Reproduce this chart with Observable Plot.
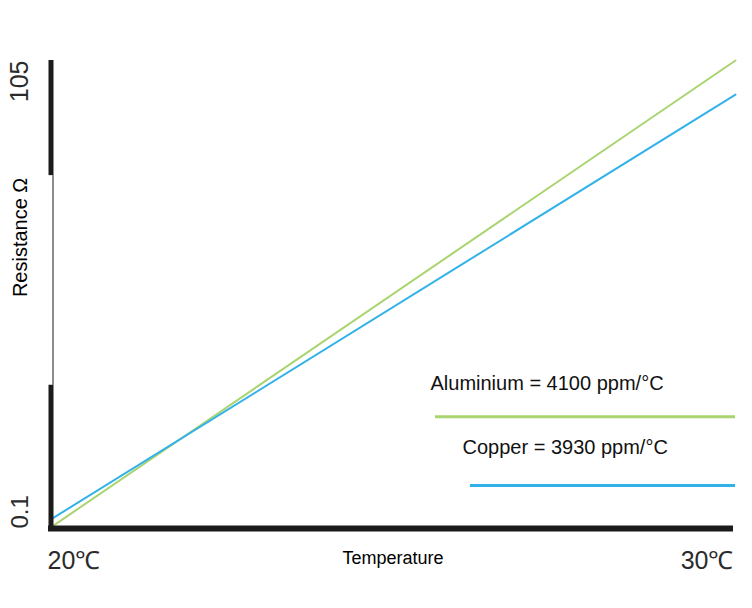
<!DOCTYPE html>
<html>
<head>
<meta charset="utf-8">
<script src="https://cdn.jsdelivr.net/npm/d3@7"></script>
<script src="https://cdn.jsdelivr.net/npm/@observablehq/plot@0.6"></script>
<style>
  html, body { margin: 0; padding: 0; background: #fff; overflow: hidden; }
  #chart svg { display: block; }
</style>
</head>
<body>
<div id="chart"></div>
<script>
// ---- data ----
const temps = [20, 30];                 // °C
const aluminium = [0.2, 100];           // relative resistance (schematic)
const copper = [1.9, 92.7];
const seriesNames = ["Aluminium", "Copper"];
const seriesLabels = ["Aluminium = 4100 ppm/°C", "Copper = 3930 ppm/°C"];
const xTickValues = [20, 30];
const xTickLabels = ["20℃", "30℃"];
const yTickValues = [0, 100];
const yTickLabels = ["0.1", "105"];
const xLabel = "Temperature";
const yLabel = "Resistance Ω";

const colors = {Aluminium: "#a9d46f", Copper: "#33b2ea"};
const axisColor = "#1b1b1b";
const font = "'Liberation Sans', Arial, Helvetica, sans-serif";

const rows = [];
temps.forEach((t, i) => {
  rows.push({series: "Aluminium", t, r: aluminium[i]});
  rows.push({series: "Copper", t, r: copper[i]});
});

const chart = Plot.plot({
  width: 752,
  height: 608,
  marginLeft: 50,
  marginRight: 17,
  marginTop: 60,
  marginBottom: 80,
  x: {domain: [20, 30], axis: null},
  y: {domain: [0, 100], axis: null},
  style: {fontFamily: font, background: "#fff", overflow: "visible"},
  marks: [
    // data lines
    Plot.line(rows, {x: "t", y: "r", z: "series", stroke: d => colors[d.series], strokeWidth: 2}),
    // y axis: thick segments with thin middle
    Plot.ruleX([20], {y1: 75.4, y2: 100, stroke: axisColor, strokeWidth: 5, dx: 0.5}),
    Plot.ruleX([20], {y1: -0.6, y2: 30.6, stroke: axisColor, strokeWidth: 5, dx: 0.5}),
    Plot.ruleX([20], {y1: 30.6, y2: 75.4, stroke: axisColor, strokeWidth: 1, dx: 2.5}),
    // x axis
    Plot.ruleY([0], {x1: 20, x2: 30, stroke: axisColor, strokeWidth: 6, insetLeft: -2, insetRight: 2}),
    // y tick labels (rotated)
    Plot.text([yTickLabels[0]], {x: 20, y: yTickValues[0], text: d => d, rotate: -90, textAnchor: "start", lineAnchor: "bottom", dx: -23, fontSize: 24, fill: "#2b2b2b"}),
    Plot.text([yTickLabels[1]], {x: 20, y: yTickValues[1], text: d => d, rotate: -90, textAnchor: "end", lineAnchor: "bottom", dx: -23, fontSize: 25, fill: "#2b2b2b"}),
    // y axis label
    Plot.text([yLabel], {x: 20, y: 62.2, text: d => d, rotate: -90, textAnchor: "middle", lineAnchor: "middle", dx: -29.5, fontSize: 20, fill: "#000"}),
    // x tick labels
    Plot.text([xTickLabels[0]], {x: xTickValues[0], y: 0, text: d => d, textAnchor: "start", lineAnchor: "bottom", dx: -3, dy: 40, fontSize: 25, fill: "#2b2b2b"}),
    Plot.text([xTickLabels[1]], {x: xTickValues[1], y: 0, text: d => d, textAnchor: "end", lineAnchor: "bottom", dx: -2, dy: 40, fontSize: 25, fill: "#2b2b2b"}),
    // x axis label
    Plot.text([xLabel], {x: 25, y: 0, text: d => d, textAnchor: "middle", lineAnchor: "bottom", dy: 35, fontSize: 18, fill: "#000"}),
    // in-plot legend
    Plot.text([seriesLabels[0]], {x: 25.547, y: 29.5, text: d => d, textAnchor: "start", lineAnchor: "bottom", fontSize: 20, fill: "#111"}),
    Plot.ruleY([23.9], {x1: 25.62, x2: 30, stroke: colors[seriesNames[0]], strokeWidth: 3}),
    Plot.text([seriesLabels[1]], {x: 26.015, y: 16.0, text: d => d, textAnchor: "start", lineAnchor: "bottom", fontSize: 20, fill: "#111"}),
    Plot.ruleY([9.2], {x1: 26.13, x2: 30, stroke: colors[seriesNames[1]], strokeWidth: 3})
  ]
});
document.getElementById("chart").appendChild(chart);
</script>
</body>
</html>
